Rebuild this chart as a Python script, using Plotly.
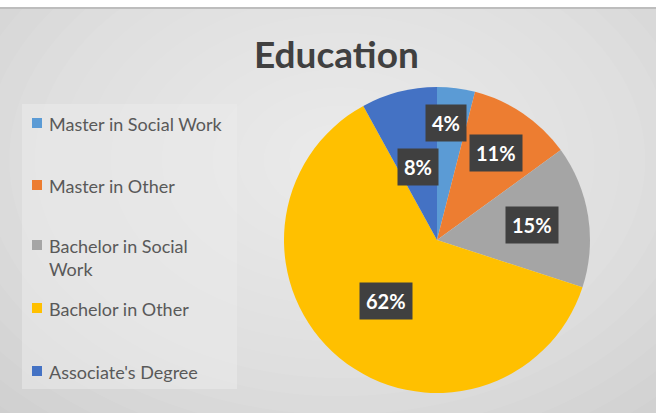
import math
import plotly.graph_objects as go

categories = ["Master in Social Work", "Master in Other", "Bachelor in Social Work",
              "Bachelor in Other", "Associate's Degree"]
legend_labels = ["Master in Social Work", "Master in Other", "Bachelor in Social<br>Work",
                 "Bachelor in Other", "Associate's Degree"]
values = [4, 11, 15, 62, 8]
colors = ["#5B9BD5", "#ED7D31", "#A5A5A5", "#FFC000", "#4472C4"]
title_text = "Education"

W, H = 656, 413
CX, CY, R = 437, 240, 153          # pie centre / radius in px (from top-left)
label_r = [0.77, 0.69, 0.63, 0.52, 0.49]   # radial placement of value boxes
label_da = [-3.0, 0, 0, 0, 0]              # small angular nudges (deg) for box placement
FONT = "Lato, 'Open Sans', sans-serif"

fig = go.Figure()
fig.add_trace(go.Pie(
    labels=categories, values=values, sort=False, direction="clockwise", rotation=0,
    marker=dict(colors=colors, line=dict(width=0)),
    textinfo="none", hoverinfo="label+percent", showlegend=False,
    domain=dict(x=[(CX - R) / W, (CX + R) / W], y=[(H - CY - R) / H, (H - CY + R) / H]),
))

shapes = []
# background with radial gradient approximation
shapes.append(dict(type="rect", xref="paper", yref="paper", x0=0, x1=1, y0=0, y1=1 - 8 / H,
                   fillcolor="#c6c6c6", line=dict(width=0), layer="below"))
gx, gy = 340, 160
steps = 22
for i in range(steps):
    f = 1 - i / steps
    rx, ry = 560 * f, 400 * f
    shapes.append(dict(type="circle", xref="paper", yref="paper",
                       x0=(gx - rx) / W, x1=(gx + rx) / W,
                       y0=(H - gy - ry) / H, y1=(H - gy + ry) / H,
                       fillcolor="rgba(255,255,255,0.06)", line=dict(width=0), layer="below"))
# top border line
shapes.append(dict(type="line", xref="paper", yref="paper", x0=0, x1=1,
                   y0=1 - 8 / H, y1=1 - 8 / H, line=dict(color="#bdbdbd", width=2), layer="below"))
# legend box
shapes.append(dict(type="rect", xref="paper", yref="paper", x0=22 / W, x1=237 / W,
                   y0=(H - 389) / H, y1=(H - 104) / H,
                   fillcolor="rgba(235,235,235,0.55)", line=dict(width=0), layer="below"))

annotations = []
annotations.append(dict(text="<b>" + title_text + "</b>", x=336 / W, y=(H - 53) / H,
                        xref="paper", yref="paper", showarrow=False,
                        xanchor="center", yanchor="middle",
                        font=dict(family=FONT, size=37, color="#404040")))

# legend entries
leg_y = [123, 185, 245, 308, 371]
for lab, col, yy in zip(legend_labels, colors, leg_y):
    shapes.append(dict(type="rect", xref="paper", yref="paper",
                       x0=32 / W, x1=42 / W, y0=(H - yy - 5) / H, y1=(H - yy + 5) / H,
                       fillcolor=col, line=dict(width=0)))
    annotations.append(dict(text=lab, x=47 / W, y=(H - yy + 12) / H, xref="paper", yref="paper",
                            xanchor="left", yanchor="top", align="left", showarrow=False,
                            font=dict(family=FONT, size=18, color="#595959")))

# value boxes
total = sum(values)
cum = 0
for v, rf, da in zip(values, label_r, label_da):
    mid = (cum + v / 2) / total * 2 * math.pi + math.radians(da)
    cum += v
    px = CX + rf * R * math.sin(mid)
    py = CY - rf * R * math.cos(mid)
    annotations.append(dict(text="<b>%d%%</b>" % round(v / total * 100), x=px / W, y=(H - py) / H,
                            xref="paper", yref="paper", showarrow=False,
                            xanchor="center", yanchor="middle",
                            bgcolor="#404040", borderpad=6,
                            font=dict(family=FONT, size=20, color="white")))

fig.update_layout(width=W, height=H, margin=dict(l=0, r=0, t=0, b=0),
                  paper_bgcolor="white", plot_bgcolor="white",
                  shapes=shapes, annotations=annotations, showlegend=False)
fig.write_html("out.html", config={"displayModeBar": False},
               post_script="document.body.style.margin='0';")
